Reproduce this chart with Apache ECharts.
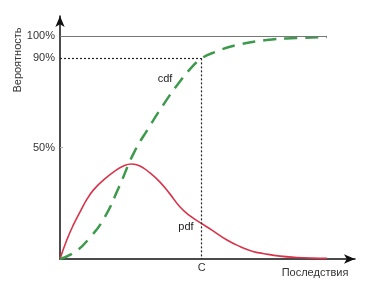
<!DOCTYPE html>
<html><head><meta charset="utf-8">
<script src="https://cdn.jsdelivr.net/npm/echarts@6/dist/echarts.min.js"></script>
<style>html,body{margin:0;padding:0;background:#fff}#c{width:378px;height:281px}</style>
</head><body><div id="c"></div>
<script>
// Data (x in arbitrary consequence units, y in percent)
const pdfX = [0, 0.23, 0.45, 0.68, 0.9, 1.13, 1.47, 1.81, 2.15, 2.43, 2.71, 3.05, 3.39, 3.73, 4.07, 4.41, 4.78, 5.19, 5.66, 6.1, 6.54, 6.88, 7.46, 8.03, 8.54, 9.05];
const pdfY = [0, 8.5, 15.2, 21.1, 26.5, 30.9, 35.4, 39.0, 41.7, 42.6, 41.7, 38.6, 34.5, 29.1, 23.3, 19.3, 16.1, 12.6, 8.5, 5.6, 3.4, 2.5, 1.3, 0.7, 0.4, 0.3];
const cdfX = [0, 0.5, 1, 1.5, 2, 2.5, 3, 3.5, 4, 4.5, 4.8, 5.25, 6, 7, 8, 9.05];
const cdfY = [0, 3.1, 9.4, 18.4, 32.3, 47.5, 58.7, 69.1, 78.5, 86.5, 90.0, 92.8, 96.0, 98.2, 99.1, 99.6];
const yTicks = [50, 90, 100];
const yTickLabels = ['50%', '90%', '100%'];
const cValue = 4.8;
const cLevel = 90;
const xLabel = 'C';
const xName = 'Последствия';
const yName = 'Вероятность';

const font = 'Liberation Sans, Arial, sans-serif';
const chart = echarts.init(document.getElementById('c'), null, {renderer: 'canvas'});
chart.setOption({
  animation: false,
  grid: {left: 60, right: 23, top: 16, bottom: 22},
  xAxis: {
    type: 'value', min: 0, max: 10,
    axisLine: {show: true, symbol: ['none', 'arrow'], symbolSize: [7, 11], lineStyle: {color: '#111', width: 1.5}},
    axisTick: {show: false},
    splitLine: {show: false},
    axisLabel: {customValues: [cValue], formatter: () => xLabel, color: '#333', fontFamily: font, fontSize: 11, margin: 3}
  },
  yAxis: {
    type: 'value', min: 0, max: 109,
    axisLine: {show: true, symbol: ['none', 'arrow'], symbolSize: [7, 11], lineStyle: {color: '#111', width: 1.5}},
    axisTick: {show: true, inside: true, length: 3, customValues: [50], lineStyle: {color: '#aaa'}},
    splitLine: {show: false},
    axisLabel: {customValues: yTicks, formatter: v => yTickLabels[yTicks.indexOf(v)], color: '#333', fontFamily: font, fontSize: 11, margin: 5}
  },
  series: [
    {
      type: 'line', name: 'pdf', smooth: true, showSymbol: false,
      data: pdfX.map((x, i) => [x, pdfY[i]]),
      lineStyle: {color: '#d8334a', width: 1.6},
      z: 3
    },
    {
      type: 'line', name: 'cdf', smooth: true, showSymbol: false,
      data: cdfX.map((x, i) => [x, cdfY[i]]),
      lineStyle: {color: '#3d9a4c', width: 2.5, type: [13, 8]},
      z: 4,
      markLine: {
        silent: true, symbol: ['none', 'none'], label: {show: false},
        data: [
          [{coord: [0, 100], lineStyle: {color: '#777', width: 1, type: 'solid'}}, {coord: [cdfX[cdfX.length - 1], 100]}],
          [{coord: [0, cLevel], lineStyle: {color: '#222', width: 1.2, type: [2, 2]}}, {coord: [cValue, cLevel]}],
          [{coord: [cValue, cLevel], lineStyle: {color: '#222', width: 1.2, type: [2, 2]}}, {coord: [cValue, 0]}]
        ]
      }
    }
  ],
  graphic: [
    {type: 'text', x: 18, y: 60, rotation: Math.PI / 2, style: {text: yName, fill: '#333', font: '11px ' + font, align: 'center', verticalAlign: 'middle'}},
    {type: 'text', x: 315, y: 273, style: {text: xName, fill: '#333', font: '11px ' + font, align: 'center', verticalAlign: 'middle'}},
    {type: 'text', x: 165, y: 79, style: {text: 'cdf', fill: '#222', font: '11px ' + font, align: 'center', verticalAlign: 'middle'}},
    {type: 'text', x: 186, y: 227, style: {text: 'pdf', fill: '#222', font: '11px ' + font, align: 'center', verticalAlign: 'middle'}}
  ]
});
</script></body></html>
